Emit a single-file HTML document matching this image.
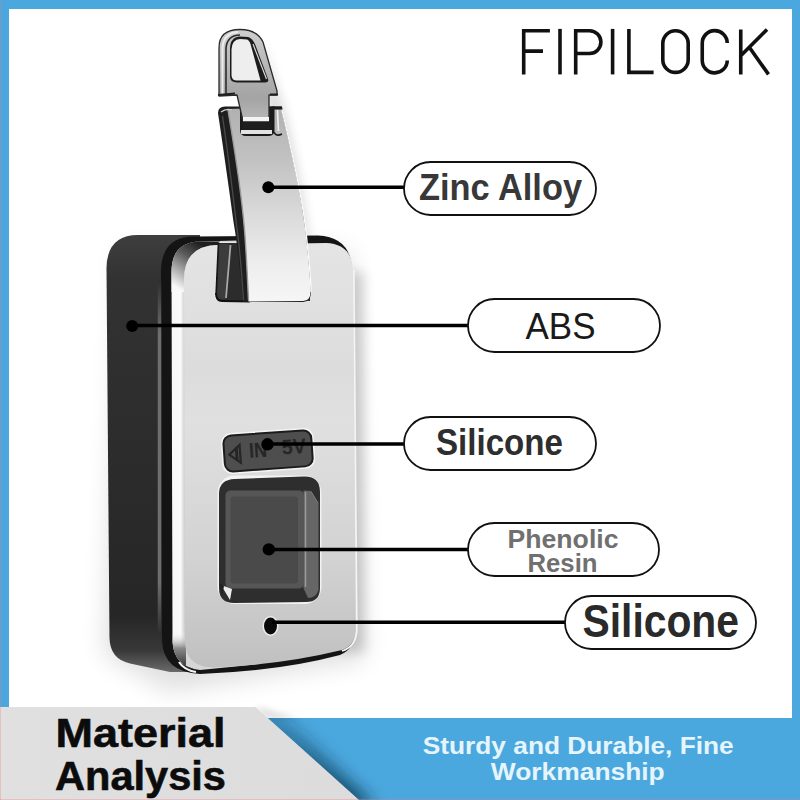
<!DOCTYPE html>
<html><head><meta charset="utf-8">
<style>
html,body{margin:0;padding:0;background:#fff;}
body{width:800px;height:800px;overflow:hidden;position:relative;}
svg{position:absolute;left:0;top:0;display:block;}
</style></head>
<body>
<svg width="800" height="800" viewBox="0 0 800 800" font-family="Liberation Sans, sans-serif">
<defs>
  <filter id="blur12" filterUnits="userSpaceOnUse" x="0" y="0" width="800" height="800"><feGaussianBlur stdDeviation="12"/></filter>
  <filter id="blur8" filterUnits="userSpaceOnUse" x="0" y="0" width="800" height="800"><feGaussianBlur stdDeviation="8"/></filter>
  <filter id="blur6" filterUnits="userSpaceOnUse" x="0" y="0" width="800" height="800"><feGaussianBlur stdDeviation="6"/></filter>
  <filter id="blur3" filterUnits="userSpaceOnUse" x="0" y="0" width="800" height="800"><feGaussianBlur stdDeviation="3"/></filter>
  <filter id="blur1" filterUnits="userSpaceOnUse" x="0" y="0" width="800" height="800"><feGaussianBlur stdDeviation="0.8"/></filter>
  <linearGradient id="faceG" x1="0" y1="0" x2="0" y2="1">
    <stop offset="0" stop-color="#e4e4e4"/>
    <stop offset="0.3" stop-color="#dcdcdc"/>
    <stop offset="0.42" stop-color="#e0e0e0"/>
    <stop offset="0.75" stop-color="#d2d2d2"/>
    <stop offset="1" stop-color="#c0c0c0"/>
  </linearGradient>
  <linearGradient id="sideG" gradientUnits="userSpaceOnUse" x1="0" y1="235" x2="0" y2="672">
    <stop offset="0" stop-color="#3e3e3e"/>
    <stop offset="0.1" stop-color="#323232"/>
    <stop offset="0.5" stop-color="#2c2c2c"/>
    <stop offset="0.87" stop-color="#262626"/>
    <stop offset="0.95" stop-color="#383838"/>
    <stop offset="1" stop-color="#6a6a6a"/>
  </linearGradient>
  <linearGradient id="bevBotG" gradientUnits="userSpaceOnUse" x1="0" y1="632" x2="0" y2="668">
    <stop offset="0" stop-color="#f8f8f8" stop-opacity="0"/>
    <stop offset="0.45" stop-color="#8a8a8a"/>
    <stop offset="1" stop-color="#333"/>
  </linearGradient>
  <linearGradient id="bevelG" gradientUnits="userSpaceOnUse" x1="171" y1="0" x2="186" y2="0">
    <stop offset="0" stop-color="#e8e8e8"/>
    <stop offset="0.1" stop-color="#f8f8f8"/>
    <stop offset="0.65" stop-color="#fafafa"/>
    <stop offset="0.9" stop-color="#cfcfcf"/>
    <stop offset="1" stop-color="#d6d6d6"/>
  </linearGradient>
  <linearGradient id="cornerG" gradientUnits="userSpaceOnUse" x1="200" y1="243" x2="173" y2="285">
    <stop offset="0" stop-color="#1e1e1e"/>
    <stop offset="0.35" stop-color="#5a5a5a"/>
    <stop offset="1" stop-color="#f8f8f8"/>
  </linearGradient>
  <linearGradient id="sideHiG" gradientUnits="userSpaceOnUse" x1="0" y1="280" x2="0" y2="635">
    <stop offset="0" stop-color="#2e2e2e"/>
    <stop offset="0.15" stop-color="#6e6e6e"/>
    <stop offset="0.85" stop-color="#6e6e6e"/>
    <stop offset="1" stop-color="#2e2e2e"/>
  </linearGradient>
  <linearGradient id="tabG" x1="0" y1="0" x2="0" y2="1">
    <stop offset="0" stop-color="#b0b0b0"/>
    <stop offset="0.3" stop-color="#c4c4c4"/>
    <stop offset="0.55" stop-color="#dadada"/>
    <stop offset="0.8" stop-color="#ededed"/>
    <stop offset="1" stop-color="#f6f6f6"/>
  </linearGradient>
  <linearGradient id="grayG" x1="0" y1="0" x2="1" y2="0">
    <stop offset="0" stop-color="#e0e0e0"/>
    <stop offset="1" stop-color="#dcdcdc"/>
  </linearGradient>
  <linearGradient id="shackG" x1="0" y1="0" x2="0" y2="1">
    <stop offset="0" stop-color="#cfcfcf"/>
    <stop offset="0.5" stop-color="#b0b0b0"/>
    <stop offset="0.75" stop-color="#a4a4a4"/>
    <stop offset="1" stop-color="#b8b8b8"/>
  </linearGradient>
  <linearGradient id="rshadG" x1="0" y1="0" x2="1" y2="0">
    <stop offset="0" stop-color="#000" stop-opacity="0.17"/>
    <stop offset="0.35" stop-color="#000" stop-opacity="0.07"/>
    <stop offset="1" stop-color="#000" stop-opacity="0"/>
  </linearGradient>
  <linearGradient id="diagShG" x1="0" y1="0" x2="0" y2="1">
    <stop offset="0" stop-color="#06263c" stop-opacity="0.18"/>
    <stop offset="1" stop-color="#06263c" stop-opacity="0.75"/>
  </linearGradient>
  <clipPath id="blueClip"><polygon points="255,718 800,718 800,800 358.5,800 267.5,718"/></clipPath>
</defs>

<!-- frame -->
<rect x="0" y="0" width="800" height="9" fill="#4aa8de"/>
<rect x="0" y="0" width="9" height="718" fill="#4aa8de"/>
<rect x="792" y="0" width="8" height="718" fill="#4aa8de"/>
<rect x="0" y="718" width="800" height="82" fill="#4aa8de"/>

<!-- product soft shadow -->
<path d="M120,250 L350,250 L365,660 L170,692 L104,655 Z" fill="#000" opacity="0.12" filter="url(#blur12)"/>
<path d="M262,40 L277,90 L283,108 C291,140 303,190 308,240 L300,245 L270,120 Z" fill="#000" opacity="0.16" filter="url(#blur6)"/>

<rect x="340" y="272" width="24" height="380" fill="#000" opacity="0.16" filter="url(#blur6)"/>
<!-- black side shell -->
<path d="M138,235 L200,235 L200,672 L170,672 L130,663.5 Q110,659 109.5,638 L106.5,268 Q107,235 138,235 Z" fill="url(#sideG)"/>
<!-- front rim (dark) -->
<path d="M194,236.5 L318,235.5 Q348,237 351.5,264 L355,628 Q355.5,649 340,655 Q280,671 200,674 Q163,672 162,640 L161,272 Q161,236.5 194,236.5 Z" fill="#141414"/>
<!-- chrome bevel -->
<path d="M200,241.5 Q171.5,242 171.5,272 L172.5,642 Q174,667 200,670 L260,664 L260,240 Z" fill="url(#bevelG)"/>
<path d="M172,632 L186,632 L186,668 L200,670 Q174,667 172.5,642 Z" fill="url(#bevBotG)"/>
<path d="M179,662 Q184,670 196,672" fill="none" stroke="#f4f4f4" stroke-width="2.2"/>
<path d="M200,241.5 Q171.5,242 171.5,272 L171.5,292 L186,292 L184,280 Q184,245.5 218,245 L220,241.5 Z" fill="url(#cornerG)"/>
<path d="M159.5,280 L159.5,635" stroke="url(#sideHiG)" stroke-width="3.5"/>
<!-- silver face -->
<path d="M218,245 L326,243 Q352,244 352.8,270 L356,628 Q356,645 342,650 Q280,665 213,667.5 Q185,667 185,640 L184,280 Q184,245.5 218,245 Z" fill="url(#faceG)"/>
<path d="M353.8,270 L356.8,628 Q357,646 342,651" fill="none" stroke="#f4f4f4" stroke-width="1.8"/>

<!-- tab cutout -->
<path d="M218.5,242.5 L305,242.5 L310,296 L310,301.5 L220,301.5 Q214.5,301.5 214.5,295 Z" fill="#f6f6f6"/>
<path d="M218.5,243 L305,243 L310,296 L310,301 L221,301 Q216,301 216,295 Z" fill="#2c2c2c"/>
<path d="M218.5,244 L229.5,244 L225.5,299 L217,299 Z" fill="#3c3c3c"/>
<path d="M230.5,245 L226,298" stroke="#a8a8a8" stroke-width="1.8"/>
<path d="M216,293 Q216,301 222,301 L250,301.5" fill="none" stroke="#111" stroke-width="2"/>
<path d="M218.5,243 L216,295" fill="none" stroke="#151515" stroke-width="1.6"/>
<!-- tab -->
<path d="M218,113 Q218,106.5 225,106.5 L281.5,106.5 C289,140 301.5,190 306,232 C308.5,255 311,280 311,292 Q311,301.5 303,302 L243,302 C240,270 237.5,245 234,225 C230,195 225,160 218,113 Z" fill="#1e1e1e"/>
<path d="M227.5,109 L281,107.5 C288.5,140 301,190 305.5,232 C308,255 310.5,280 310.5,292 Q310.5,300.5 303,301 L248.5,301.5 C247.5,280 246.5,255 244.6,231 C242.5,205 239.5,178 227.5,109 Z" fill="url(#tabG)"/>
<path d="M228,110 C239.5,178 242.5,205 244.6,231 C246.5,255 247.5,280 248.5,300" fill="none" stroke="#9a9a9a" stroke-width="1.4"/>
<path d="M281.5,108 C289,140 301.5,190 306,232 C308.5,255 311,280 311,292" fill="none" stroke="#fafafa" stroke-width="1.4"/>
<path d="M221,112 Q226,108 232,110" fill="none" stroke="#cfcfcf" stroke-width="1.2"/>
<path d="M222.5,116 C229,160 233,195 236.5,225 C239.5,245 241.5,270 243.5,300" fill="none" stroke="#4a4a4a" stroke-width="1.3"/>
<!-- slot -->
<path d="M240,106.5 L274.5,106.5 L274.5,131 Q274,136 268,136 L246,136 Q240,136 240,130 Z" fill="#1a1a1a"/>
<path d="M277.5,110 L278.5,131" stroke="#f2f2f2" stroke-width="1.6"/>
<path d="M274,132 Q276,137 282,134" fill="none" stroke="#1a1a1a" stroke-width="1.6"/>
<rect x="241" y="130" width="31" height="4" fill="#e2e2e2"/>
<path d="M272,106.5 L282,106.5 L282.5,109.5 L272,109.5 Z" fill="#1a1a1a"/>

<!-- shackle loop -->
<path d="M219,96 L219,48 Q219,29.5 240,29.5 Q257,29.5 263,42 L277,91 L277,95 L269,95 L269,121 L243,121 L237,95 Z" fill="url(#shackG)" stroke="#2a2a2a" stroke-width="1.3" stroke-linejoin="round"/>
<path d="M226,94 L226,49 Q226.5,35.5 240,35" fill="none" stroke="#2e2e2e" stroke-width="1.6"/>
<path d="M222.5,94 L222.5,48 Q223.5,33 238,32" fill="none" stroke="#ececec" stroke-width="2"/>
<path d="M243,117 L269,117 L269,121.5 L243,121.5 Z" fill="#f4f4f4"/>
<path d="M243,121.5 L272,121.5 L272,129.5 L243,129.5 Z" fill="#1e1e1e"/>
<!-- hole -->
<path d="M230,49 Q230,37 240,36.5 L248,37 Q252,38 255,44 L268,79 Q269,82.5 265,82.5 L237,82.5 Q230,82.5 230,76 Z" fill="#1c1c1c"/>
<path d="M231.5,49.5 Q232,39.5 240,39 L247,39.5 Q249,40 250.5,44 L260.5,80.5 L237,80.5 Q231.5,80.5 231.5,75 Z" fill="#eeeeee"/>
<path d="M253,44 L266.5,79" stroke="#d8d8d8" stroke-width="1.2"/>
<path d="M218,95 L235,93.5" stroke="#1e1e1e" stroke-width="2"/>
<path d="M270,94.5 L278,94.5" stroke="#1e1e1e" stroke-width="2"/>

<!-- USB label -->
<g transform="rotate(-4 267 450)">
<rect x="221.5" y="430.5" width="93" height="41" rx="10" fill="#f4f4f4"/>
<rect x="224" y="433" width="88" height="36" rx="8" fill="#4e4e4e" stroke="#1c1c1c" stroke-width="2"/>
<path d="M240,443 L229,452 L240,461 Z" fill="none" stroke="#262626" stroke-width="2.2" stroke-linejoin="miter"/>
<path d="M236.5,446 L236.5,458" stroke="#262626" stroke-width="3"/>
<text x="249" y="456.5" font-size="21" font-weight="bold" fill="#262626" textLength="18" lengthAdjust="spacingAndGlyphs">IN</text>
<text x="282" y="455.5" font-size="21" font-weight="bold" fill="#262626" textLength="24" lengthAdjust="spacingAndGlyphs">5V</text>
</g>

<!-- fingerprint sensor -->
<rect x="217.5" y="475.5" width="104" height="128.5" rx="17" fill="#f2f2f2"/>
<path d="M235,479 L304,476.5 Q320,476 320,492 L320,588 Q320,602 306,602 L234,603 Q219,603 219,588 L219,494 Q219,479.5 235,479 Z" fill="#2e2e2e"/>
<path d="M303.5,490.5 L311,491 L318.5,503 L318.5,590 Q316,598 308,598 L303.5,588 Z" fill="#666"/>
<path d="M305.5,492 L305.5,587" stroke="#9a9a9a" stroke-width="1.5"/>
<path d="M311,491.5 L318,503" stroke="#7a7a7a" stroke-width="1"/>
<rect x="225.5" y="490.5" width="78.5" height="98" rx="5" fill="#565656"/>
<rect x="230.5" y="496.5" width="67.5" height="87" rx="3" fill="#4a4a4a"/>
<path d="M221,585 L232,589 L230,600 Z" fill="#ececec"/>
<path d="M219.5,583 L224,586 L222,596 Z" fill="#222"/>

<!-- LED -->
<ellipse cx="270.5" cy="626" rx="8" ry="10" fill="#f2f2f2" opacity="0.85"/>
<ellipse cx="270.5" cy="626" rx="6.5" ry="8.5" fill="#0a0a0a"/>

<!-- callout lines & dots -->
<g stroke="#000" stroke-width="3.5">
  <line x1="268" y1="187.3" x2="404" y2="187.3"/>
  <line x1="132" y1="325.5" x2="468" y2="325.5"/>
  <line x1="268" y1="444" x2="404" y2="444"/>
  <line x1="269" y1="549.4" x2="468" y2="549.4"/>
  <line x1="272" y1="622.3" x2="565" y2="622.3"/>
</g>
<g fill="#000">
  <circle cx="268.3" cy="187.3" r="6"/>
  <circle cx="132.2" cy="326" r="6"/>
  <circle cx="267.5" cy="444.3" r="6.2"/>
  <circle cx="268.8" cy="549.4" r="6.2"/>
</g>

<!-- pills -->
<g fill="#fff" stroke="#111" stroke-width="1.8">
  <rect x="404" y="162" width="192" height="53" rx="26.5"/>
  <rect x="468" y="299" width="192" height="53" rx="26.5"/>
  <rect x="404" y="417" width="192" height="53" rx="26.5"/>
  <rect x="468" y="523" width="191" height="53" rx="26.5"/>
  <rect x="565" y="596" width="191" height="53" rx="26.5"/>
</g>

<!-- label text -->
<text x="419" y="200" font-size="36" font-weight="bold" fill="#383838" textLength="163" lengthAdjust="spacingAndGlyphs">Zinc Alloy</text>
<text x="525.5" y="339" font-size="36" fill="#1a1a1a" textLength="70" lengthAdjust="spacingAndGlyphs">ABS</text>
<text x="436" y="455" font-size="36" font-weight="bold" fill="#2e2e2e" textLength="127" lengthAdjust="spacingAndGlyphs">Silicone</text>
<text x="507.5" y="548" font-size="25.5" font-weight="bold" fill="#707070" textLength="111" lengthAdjust="spacingAndGlyphs">Phenolic</text>
<text x="527.5" y="571.5" font-size="25.5" font-weight="bold" fill="#707070" textLength="70" lengthAdjust="spacingAndGlyphs">Resin</text>
<text x="582.5" y="636.5" font-size="46" font-weight="bold" fill="#2a2a2a" textLength="156.5" lengthAdjust="spacingAndGlyphs">Silicone</text>

<!-- FIPILOCK -->
<g fill="none" stroke="#111" stroke-width="3.6" stroke-linecap="butt" stroke-linejoin="miter">
  <path d="M523.7,74.4 V30.7 H549.9 M523.7,51.1 H543"/>
  <path d="M560,28.9 V74.4"/>
  <path d="M575.7,74.4 V30.7 H589.5 A11.4,11.4 0 0 1 589.5,53.5 H575.7"/>
  <path d="M612.6,28.9 V74.4"/>
  <path d="M628.9,28.9 V72.4 H653.6"/>
  <path d="M662.8,43.5 A12.7,12.7 0 0 1 688.2,43.5 V59.7 A12.7,12.7 0 0 1 662.8,59.7 Z"/>
  <path d="M727.25,43 A12.5,12.5 0 0 0 702.25,43.25 V60.25 A12.5,12.5 0 0 0 727.25,60.5"/>
  <path d="M740.75,29.5 V74.4 M741.5,55 L767,29.5 M749.5,47.5 L768.5,74.4"/>
</g>

<!-- bottom gray parallelogram -->
<g clip-path="url(#blueClip)">
  <polygon points="235,712 280,712 376,806 330,806" fill="url(#diagShG)" filter="url(#blur8)"/>
</g>
<polygon points="254,708 262,708 300,719 268,719" fill="#000" opacity="0.13" filter="url(#blur3)"/>
<polygon points="0,707 255.5,707 359,800 0,800" fill="url(#grayG)"/>
<text x="55.5" y="746.8" font-size="41" font-weight="bold" fill="#0c0c0c" stroke="#0c0c0c" stroke-width="0.6" textLength="170" lengthAdjust="spacingAndGlyphs">Material</text>
<text x="55" y="790.3" font-size="41" font-weight="bold" fill="#0c0c0c" stroke="#0c0c0c" stroke-width="0.6" textLength="171" lengthAdjust="spacingAndGlyphs">Analysis</text>

<text x="422.75" y="754" font-size="24.7" font-weight="bold" fill="#e6f5fc" textLength="311" lengthAdjust="spacingAndGlyphs">Sturdy and Durable, Fine</text>
<text x="490.75" y="779.5" font-size="24.7" font-weight="bold" fill="#e6f5fc" textLength="174" lengthAdjust="spacingAndGlyphs">Workmanship</text>
<rect x="0" y="799" width="800" height="1" fill="#ff7070" opacity="0.3"/>
<rect x="0" y="0" width="1" height="800" fill="#ff7070" opacity="0.3"/>
</svg>
</body></html>
